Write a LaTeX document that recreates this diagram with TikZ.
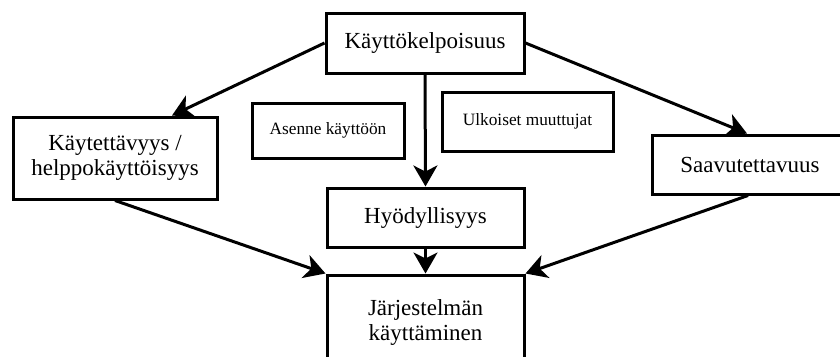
\documentclass[tikz,border=0pt]{standalone}
\usepackage{fontspec}
\setmainfont{Liberation Serif}
\usetikzlibrary{arrows.meta}
\begin{document}
\begin{tikzpicture}[x=1pt,y=-1pt,
  box/.style={draw, line width=3pt, rectangle, align=center, inner sep=0pt,
    font=\fontsize{23}{25.5}\selectfont},
  smallbox/.style={box, font=\fontsize{17.3}{20}\selectfont},
  link/.style={line width=3pt, -{Stealth[length=21pt,width=24pt,inset=6pt]}}]
  \clip (0,0) rectangle (840,356);
  \fill[white] (0,0) rectangle (840,356);

  \node[box, minimum width=198pt, minimum height=60pt] (kk) at (425,43) {Käyttökelpoisuus};
  \node[box, minimum width=204pt, minimum height=82pt] (kt) at (115,158) {Käytettävyys /\\helppokäyttöisyys};
  \node[smallbox, minimum width=152pt, minimum height=55pt] (as) at (328,130.5) {Asenne käyttöön};
  \node[smallbox, minimum width=171pt, minimum height=59pt] (ul) at (527.5,121.5) {Ulkoiset muuttujat};
  \node[box, minimum width=196pt, minimum height=59pt] (sa) at (750,164.5) {Saavutettavuus};
  \node[box, minimum width=197pt, minimum height=59pt] (hy) at (425.5,217.5) {Hyödyllisyys};
  \node[box, minimum width=197pt, minimum height=90pt, text depth=0pt] (jk) at (425.5,320) {Järjestelmän\\käyttäminen};

  \draw[link] (kk.west) -- ([xshift=57pt]kt.north);
  \draw[link] (kk.east) -- ([xshift=-3pt]sa.north);
  \draw[link] (kk.south) -- (hy.north);
  \draw[link] (kt.south) -- (jk.north west);
  \draw[link] ([xshift=-2pt]sa.south) -- (jk.north east);
  \draw[link] (hy.south) -- (jk.north);
\end{tikzpicture}
\end{document}
